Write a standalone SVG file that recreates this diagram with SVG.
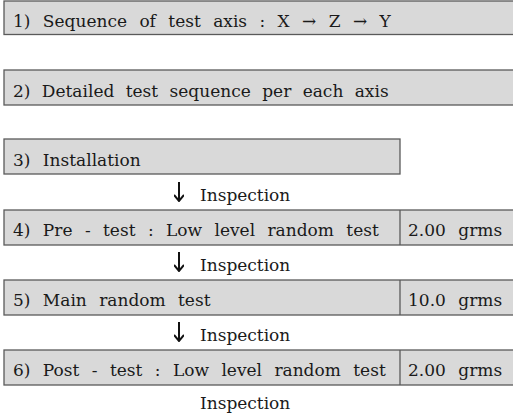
<svg xmlns="http://www.w3.org/2000/svg" width="513" height="417" viewBox="0 0 513 417">
<style>
  .box { fill: #d9d9d9; stroke: #5a5a5a; stroke-width: 1.3; }
  .div { stroke: #5a5a5a; stroke-width: 1.3; }
  .t { font-family: "DejaVu Serif", "Liberation Serif", serif; font-size: 17px; fill: #1a1a1a; word-spacing: 7px; }
  .arr { stroke: #111; stroke-width: 2; fill: none; }
</style>
<defs>
  <marker id="ah" viewBox="0 0 10 10" refX="9" refY="5" markerWidth="10" markerHeight="10" markerUnits="userSpaceOnUse" orient="auto">
    <path d="M3,0 L9,5 L3,10" fill="none" stroke="#111" stroke-width="2"/>
  </marker>
</defs>
<rect width="513" height="417" fill="#ffffff"/>
<g id="step1">
  <rect class="box" x="4" y="1" width="520" height="33.5"/>
  <text class="t" x="13" y="27">1) Sequence of test axis : X → Z → Y</text>
</g>
<g id="step2">
  <rect class="box" x="4" y="70" width="520" height="35"/>
  <text class="t" x="13" y="97" style="word-spacing:6px">2) Detailed test sequence per each axis</text>
</g>
<g id="step3">
  <rect class="box" x="4" y="139" width="396" height="35"/>
  <text class="t" x="13" y="166">3) Installation</text>
</g>
<g id="step4">
  <rect class="box" x="4" y="210" width="520" height="35"/>
  <line class="div" x1="400" y1="210" x2="400" y2="245"/>
  <text class="t" x="13" y="236">4) Pre - test : Low level random test</text>
  <text class="t" x="408" y="236">2.00 grms</text>
</g>
<g id="step5">
  <rect class="box" x="4" y="280" width="520" height="35"/>
  <line class="div" x1="400" y1="280" x2="400" y2="315"/>
  <text class="t" x="13" y="306">5) Main random test</text>
  <text class="t" x="408" y="306">10.0 grms</text>
</g>
<g id="step6">
  <rect class="box" x="4" y="350" width="520" height="35"/>
  <line class="div" x1="400" y1="350" x2="400" y2="385"/>
  <text class="t" x="13" y="376">6) Post - test : Low level random test</text>
  <text class="t" x="408" y="376">2.00 grms</text>
</g>
<g id="connectors">
  <line class="arr" x1="179" y1="182" x2="179" y2="201" marker-end="url(#ah)"/>
  <text class="t" x="200" y="201">Inspection</text>
  <line class="arr" x1="179" y1="252" x2="179" y2="271" marker-end="url(#ah)"/>
  <text class="t" x="200" y="271">Inspection</text>
  <line class="arr" x1="179" y1="322" x2="179" y2="341" marker-end="url(#ah)"/>
  <text class="t" x="200" y="341">Inspection</text>
  <text class="t" x="200" y="409">Inspection</text>
</g>
</svg>
